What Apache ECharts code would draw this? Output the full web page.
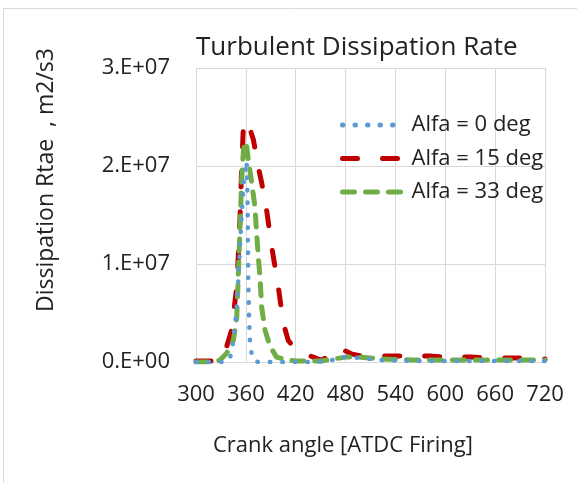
<!DOCTYPE html>
<html>
<head>
<meta charset="utf-8">
<script src="https://cdn.jsdelivr.net/npm/echarts@6/dist/echarts.min.js"></script>
<style>
html,body{margin:0;padding:0;background:#fff;}
#chart{width:577px;height:483px;}
</style>
</head>
<body>
<div id="chart"></div>
<script>
var titleText = 'Turbulent Dissipation Rate';
var xAxisName = 'Crank angle [ATDC Firing]';
var yAxisName = 'Dissipation Rtae  , m2/s3';
var seriesNames = ['Alfa = 0 deg', 'Alfa = 15 deg', 'Alfa = 33 deg'];
var xTicks = [300, 360, 420, 480, 540, 600, 660, 720];
var yTickLabels = ['0.E+00', '1.E+07', '2.E+07', '3.E+07'];

var anglesAlfa0 = [300, 320, 335, 340, 343, 346, 349, 352, 355, 358, 360, 361, 362, 363, 364, 365, 367, 370, 375, 400, 440, 460, 475, 490, 501, 520, 560, 600, 640, 680, 720];
var valuesAlfa0 = [0, 0, 0, 0.02e7, 0.1e7, 0.3e7, 0.55e7, 1.0e7, 1.5e7, 1.9e7, 2.0e7, 2.05e7, 1.7e7, 0.8e7, 0.4e7, 0.2e7, 0.08e7, 0.01e7, 0, 0, 0, 0.01e7, 0.05e7, 0.045e7, 0.04e7, 0.02e7, 0.01e7, 0.01e7, 0.01e7, 0.01e7, 0.01e7];

var anglesAlfa15 = [300, 325, 330, 337, 343, 349, 351, 353, 355, 357, 360, 363, 366, 369, 375, 379, 385, 391, 399, 405, 411, 420, 429, 441, 450, 460, 470, 478, 488, 500, 520, 540, 560, 584, 600, 630, 660, 690, 720];
var valuesAlfa15 = [0.01e7, 0.01e7, 0.03e7, 0.16e7, 0.33e7, 0.77e7, 1.1e7, 1.48e7, 1.99e7, 2.4e7, 2.46e7, 2.45e7, 2.35e7, 2.27e7, 1.99e7, 1.83e7, 1.55e7, 1.18e7, 0.77e7, 0.4e7, 0.22e7, 0.13e7, 0.09e7, 0.05e7, 0.02e7, 0.05e7, 0.14e7, 0.12e7, 0.08e7, 0.06e7, 0.06e7, 0.06e7, 0.06e7, 0.06e7, 0.05e7, 0.05e7, 0.04e7, 0.04e7, 0.03e7];

var anglesAlfa33 = [300, 320, 329, 337, 345, 349, 351, 353, 355, 357, 359, 361, 363, 367, 371, 373, 375, 377, 379, 383, 389, 397, 409, 420, 450, 465, 480, 495, 510, 525, 560, 600, 660, 720];
var valuesAlfa33 = [0, 0, 0.02e7, 0.09e7, 0.22e7, 0.45e7, 0.9e7, 1.4e7, 1.85e7, 2.15e7, 2.25e7, 2.2e7, 2.06e7, 1.83e7, 1.58e7, 1.31e7, 1.07e7, 0.87e7, 0.56e7, 0.33e7, 0.16e7, 0.05e7, 0.02e7, 0.01e7, 0.01e7, 0.03e7, 0.05e7, 0.05e7, 0.04e7, 0.03e7, 0.02e7, 0.02e7, 0.02e7, 0.02e7];

function pairs(xs, ys) {
  var out = [];
  for (var i = 0; i < xs.length; i++) out.push([xs[i], ys[i]]);
  return out;
}

var FONT = 'Open Sans';
var chart = echarts.init(document.getElementById('chart'), null, {renderer: 'canvas'});
var option = {
  backgroundColor: '#ffffff',
  animation: false,
  title: {
    text: titleText,
    left: 191,
    top: 30,
    textStyle: {fontFamily: FONT, fontSize: 26, fontWeight: 'normal', color: '#222'}
  },
  grid: {left: 196, right: 32, top: 68, bottom: 121, containLabel: false},
  xAxis: {
    type: 'value',
    min: xTicks[0],
    max: xTicks[xTicks.length - 1],
    interval: 60,
    axisLine: {show: true, lineStyle: {color: '#d9d9d9', width: 1}},
    axisTick: {show: false},
    splitLine: {show: true, lineStyle: {color: '#d9d9d9', width: 1}},
    axisLabel: {fontFamily: FONT, fontSize: 22, color: '#222', margin: 22}
  },
  yAxis: {
    type: 'value',
    min: 0,
    max: 3e7,
    interval: 1e7,
    axisLine: {show: false},
    axisTick: {show: false},
    splitLine: {show: true, lineStyle: {color: '#d9d9d9', width: 1}},
    axisLabel: {
      fontFamily: FONT, fontSize: 22, color: '#222', margin: 26,
      formatter: function (v) { return yTickLabels[Math.round(v / 1e7)]; }
    }
  },
  legend: {
    orient: 'vertical',
    left: 335,
    top: 109,
    itemWidth: 62,
    itemHeight: 22,
    itemGap: 11.5,
    textStyle: {fontFamily: FONT, fontSize: 22, color: '#222', lineHeight: 22, padding: [0, 0, 0, 2]},
    lineStyle: {width: 5, type: 'inherit', cap: 'round'},
    itemStyle: {opacity: 0},
    data: seriesNames
  },
  series: [
    {
      name: seriesNames[0], type: 'line', symbol: 'none', z: 4,
      data: pairs(anglesAlfa0, valuesAlfa0),
      lineStyle: {color: '#5B9BD5', width: 4.5, type: [0.5, 12], cap: 'round', join: 'round'},
      itemStyle: {color: '#5B9BD5'}
    },
    {
      name: seriesNames[1], type: 'line', symbol: 'none', z: 2,
      data: pairs(anglesAlfa15, valuesAlfa15),
      lineStyle: {color: '#C00000', width: 5, type: [15, 25], cap: 'round', join: 'round'},
      itemStyle: {color: '#C00000'}
    },
    {
      name: seriesNames[2], type: 'line', symbol: 'none', z: 3,
      data: pairs(anglesAlfa33, valuesAlfa33),
      lineStyle: {color: '#70AD47', width: 5, type: [12, 11], cap: 'round', join: 'round'},
      itemStyle: {color: '#70AD47'}
    }
  ],
  graphic: [
    {type: 'rect', silent: true, z: -1, shape: {x: 3.5, y: 8.5, width: 700, height: 700}, style: {fill: null, stroke: '#d9d9d9', lineWidth: 1}},
    {type: 'text', x: 213, y: 446, silent: true, style: {text: xAxisName, fontFamily: FONT, fontSize: 22, fill: '#222', textAlign: 'left', textVerticalAlign: 'middle'}},
    {type: 'text', x: 46, y: 180, rotation: Math.PI / 2, silent: true, style: {text: yAxisName, fontFamily: FONT, fontSize: 23, fill: '#222', textAlign: 'center', textVerticalAlign: 'middle'}}
  ]
};
chart.setOption(option);
</script>
</body>
</html>
